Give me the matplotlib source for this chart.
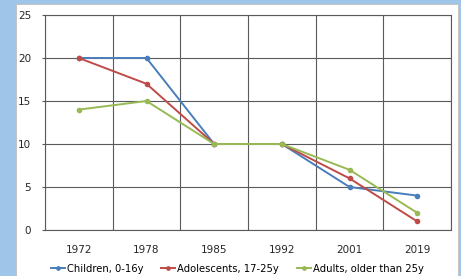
import matplotlib.pyplot as plt
import matplotlib.patches as patches
import numpy as np

plt.rcParams['font.family'] = ['DejaVu Sans']

# Data
years = ["1972", "1978", "1985", "1992", "2001", "2019"]
children = [20, 20, 10, 10, 5, 4]
adolescents = [20, 17, 10, 10, 6, 1]
adults = [14, 15, 10, 10, 7, 2]

C_BLUE = '#4A7EBB'
C_RED = '#BE4B48'
C_GREEN = '#98B954'
C_FRAME = '#9FC5E8'
C_GRID = '#5A5A5A'

fig = plt.figure(figsize=(4.61, 2.76), dpi=100, facecolor=C_FRAME)
# white chart panel inside the blue frame
fig.patches.append(patches.Rectangle((16 / 461, 0), 442 / 461, 272 / 276,
                                     transform=fig.transFigure, facecolor='white',
                                     edgecolor='#BFBFBF', linewidth=0.6, zorder=-10))

ax = fig.add_axes([45 / 461, 1 - 230 / 276, 406 / 461, 215 / 276])
x = np.arange(len(years))

series = [(children, 'Children, 0-16y', C_BLUE),
          (adolescents, 'Adolescents, 17-25y', C_RED),
          (adults, 'Adults, older than 25y', C_GREEN)]
for vals, lab, col in series:
    ax.plot(x, vals, color=col, lw=1.4, marker='o', markersize=3, label=lab, zorder=3)

ax.set_xlim(-0.5, len(years) - 0.5)
ax.set_ylim(0, 25)
ax.set_yticks(np.arange(0, 26, 5))
ax.set_xticks(x)
ax.set_xticklabels(years)
ax.set_xticks(np.arange(-0.5, len(years), 1), minor=True)

ax.grid(axis='y', color=C_GRID, lw=0.8)
ax.grid(axis='x', which='minor', color=C_GRID, lw=0.8)
ax.set_axisbelow(True)
for s in ax.spines.values():
    s.set_color(C_GRID)
    s.set_linewidth(0.8)

ax.tick_params(axis='x', which='both', length=0, pad=11, labelsize=7.5, colors='#262626')
ax.tick_params(axis='y', length=2, color=C_GRID, pad=8, labelsize=7.5, colors='#262626')

fig.legend(loc='lower center', bbox_to_anchor=(0.515, -0.025), ncol=3, frameon=False,
           fontsize=7.2, handlelength=1.4, handletextpad=0.2, columnspacing=1.8,
           markerscale=0.8)

fig.savefig('out.png', dpi=100, facecolor=C_FRAME)
